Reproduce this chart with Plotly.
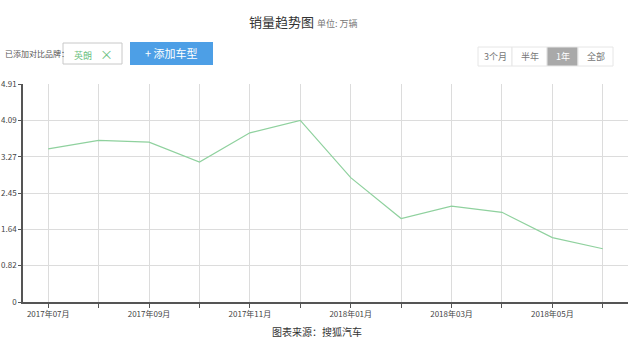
import plotly.graph_objects as go

months = ["2017年07月", "2017年08月", "2017年09月", "2017年10月", "2017年11月", "2017年12月",
          "2018年01月", "2018年02月", "2018年03月", "2018年04月", "2018年05月", "2018年06月"]
sales = [3.45, 3.64, 3.60, 3.15, 3.81, 4.09, 2.80, 1.88, 2.16, 2.02, 1.45, 1.20]
y_ticks = [0, 0.82, 1.64, 2.45, 3.27, 4.09, 4.91]
y_labels = ["0", "0.82", "1.64", "2.45", "3.27", "4.09", "4.91"]
x_labels = [m if i % 2 == 0 else "" for i, m in enumerate(months)]

FONT = "Noto Sans CJK SC, Noto Sans, sans-serif"

W, H = 639, 357
# plot area in pixels
L, R, T, B = 23, 628, 84, 302
PW, PH = R - L, B - T


def px(x):
    return (x - L) / PW


def py(y):
    return (B - y) / PH


fig = go.Figure()
fig.add_trace(go.Scatter(
    x=months, y=sales, mode="lines",
    line=dict(color="#8fd19e", width=1.2),
    hoverinfo="x+y", showlegend=False,
))

fig.update_layout(
    width=W, height=H,
    margin=dict(l=L, r=W - R, t=T, b=H - B, autoexpand=False),
    paper_bgcolor="white", plot_bgcolor="white",
    font=dict(family=FONT, size=9, color="#333"),
    xaxis=dict(
        type="category", categoryorder="array", categoryarray=months,
        range=[-0.5, 11.5], automargin=False,
        tickmode="array", tickvals=months, ticktext=x_labels,
        showgrid=True, gridcolor="#dcdcdc", gridwidth=1,
        showline=True, linecolor="#555", linewidth=1.5,
        ticks="outside", ticklen=4, tickcolor="#555",
        tickfont=dict(size=8, color="#444"),
        zeroline=False, fixedrange=True,
    ),
    yaxis=dict(
        range=[0, 4.91], automargin=False,
        tickmode="array", tickvals=y_ticks, ticktext=y_labels,
        showgrid=True, gridcolor="#dcdcdc", gridwidth=1,
        showline=True, linecolor="#555", linewidth=1.5,
        ticks="outside", ticklen=3, tickcolor="#555",
        tickfont=dict(size=8, color="#444"),
        zeroline=False, fixedrange=True,
    ),
)

# Title
fig.add_annotation(xref="paper", yref="paper", x=px(303), y=py(21),
                   text="销量趋势图 <span style='font-size:9px;color:#777'>单位: 万辆</span>",
                   showarrow=False, font=dict(size=13, color="#333", family=FONT),
                   xanchor="center", yanchor="middle")

# Left controls
fig.add_annotation(xref="paper", yref="paper", x=px(3), y=py(54),
                   text="已添加对比品牌：", showarrow=False,
                   font=dict(size=8, color="#555", family=FONT),
                   xanchor="left", yanchor="middle")
fig.add_shape(type="rect", xref="paper", yref="paper",
              x0=px(63), x1=px(122), y0=py(64), y1=py(43),
              line=dict(color="#c8c8c8", width=1), fillcolor="white", layer="above")
fig.add_annotation(xref="paper", yref="paper", x=px(93), y=py(54),
                   text="英朗    <span style='font-size:13px'>×</span>", showarrow=False,
                   font=dict(size=9, color="#6cc17f", family=FONT),
                   xanchor="center", yanchor="middle")
fig.add_shape(type="rect", xref="paper", yref="paper",
              x0=px(130), x1=px(213), y0=py(65), y1=py(42),
              line=dict(width=0), fillcolor="#4d9fe6", layer="above")
fig.add_annotation(xref="paper", yref="paper", x=px(171), y=py(53),
                   text="+ 添加车型", showarrow=False,
                   font=dict(size=11, color="white", family=FONT),
                   xanchor="center", yanchor="middle")

# Right range buttons
btns = [("3个月", 478, 512), ("半年", 512, 547), ("1年", 547, 578), ("全部", 578, 613)]
for label, x0, x1 in btns:
    active = label == "1年"
    fig.add_shape(type="rect", xref="paper", yref="paper",
                  x0=px(x0), x1=px(x1), y0=py(66), y1=py(47),
                  line=dict(color="#e6e6e6", width=1),
                  fillcolor="#a9a9a9" if active else "white", layer="above")
    fig.add_annotation(xref="paper", yref="paper", x=px((x0 + x1) / 2),
                       y=py(56.5), text=label, showarrow=False,
                       font=dict(size=9, color="white" if active else "#777", family=FONT),
                       xanchor="center", yanchor="middle")

# Source
fig.add_annotation(xref="paper", yref="paper", x=px(317), y=py(331),
                   text="图表来源：搜狐汽车", showarrow=False,
                   font=dict(size=10, color="#333", family=FONT),
                   xanchor="center", yanchor="middle")

fig.write_html(
    "out.html",
    config={"displayModeBar": False},
    post_script="document.body.style.margin='0';document.body.style.overflow='hidden';",
)
